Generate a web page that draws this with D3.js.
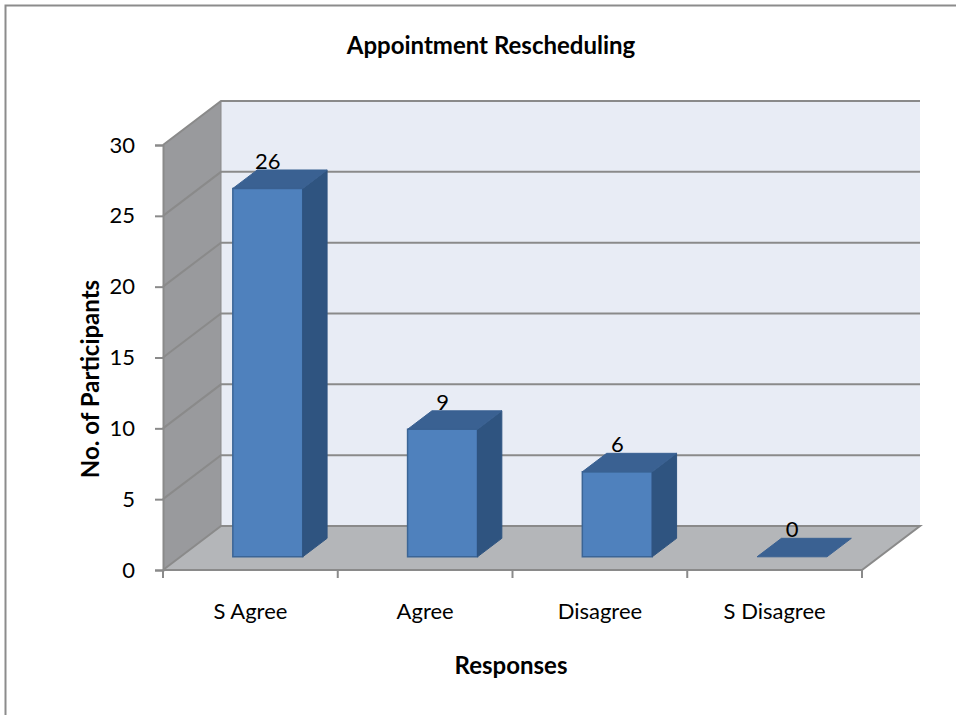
<!DOCTYPE html>
<html>
<head>
<meta charset="utf-8">
<script src="https://cdn.jsdelivr.net/npm/d3@7"></script>
<style>
  body { margin: 0; background: #fff; }
  text { font-family: Lato, "Open Sans", sans-serif; fill: #000; }
</style>
</head>
<body>
<div id="chart"></div>
<script>
// DATA
var categories = ["S Agree", "Agree", "Disagree", "S Disagree"];
var values = [26, 9, 6, 0];
var yTicks = [0, 5, 10, 15, 20, 25, 30];

var svgWidth = 956, svgHeight = 715;

var svg = d3.select("#chart").append("svg")
  .attr("width", svgWidth)
  .attr("height", svgHeight);

// outer frame
svg.append("rect")
  .attr("x", 5.5).attr("y", 5.5)
  .attr("width", svgWidth).attr("height", svgHeight)
  .attr("fill", "none").attr("stroke", "#8c8c8c").attr("stroke-width", 2);

// SCALES
var xScale = d3.scaleBand().domain(categories).range([163, 862]);
var yScale = d3.scaleLinear().domain([0, 30]).range([570, 145]);

// 3D depth offset
var depthX = 58, depthY = -44;
var barZ0 = 0.3, barZ1 = 0.72;

function pt(x, v, z) {
  return [x + z * depthX, yScale(v) + z * depthY];
}
function poly(points) {
  return points.map(function(p) { return p.join(","); }).join(" ");
}

var x0 = xScale.range()[0], x1 = xScale.range()[1];
var yMax = yScale.domain()[1];

// back wall
svg.append("polygon")
  .attr("points", poly([pt(x0, 0, 1), pt(x0, yMax, 1), pt(x1, yMax, 1), pt(x1, 0, 1)]))
  .attr("fill", "#e8ecf5");

// left side wall
svg.append("polygon")
  .attr("points", poly([pt(x0, 0, 0), pt(x0, yMax, 0), pt(x0, yMax, 1), pt(x0, 0, 1)]))
  .attr("fill", "#999a9d");

// floor
svg.append("polygon")
  .attr("points", poly([pt(x0, 0, 0), pt(x0, 0, 1), pt(x1, 0, 1), pt(x1, 0, 0)]))
  .attr("fill", "#b4b6b9");

// gridlines: back wall + side wall
yTicks.forEach(function(t) {
  if (t === 0) return;
  var a = pt(x0, t, 0), b = pt(x0, t, 1), c = pt(x1, t, 1);
  svg.append("polyline")
    .attr("points", poly([a, b, c]))
    .attr("fill", "none").attr("stroke", "#8a8a8a").attr("stroke-width", 2);
});

// floor outline
svg.append("polyline")
  .attr("points", poly([pt(x0, 0, 0), pt(x0, 0, 1), pt(x1, 0, 1), pt(x1, 0, 0), pt(x0, 0, 0)]))
  .attr("fill", "none").attr("stroke", "#8a8a8a").attr("stroke-width", 2);

// wall left edge
svg.append("line")
  .attr("x1", pt(x0, 0, 1)[0]).attr("y1", pt(x0, 0, 1)[1])
  .attr("x2", pt(x0, yMax, 1)[0]).attr("y2", pt(x0, yMax, 1)[1])
  .attr("stroke", "#8a8a8a").attr("stroke-width", 1);

// Y AXIS
var leftAxis = d3.axisLeft(yScale).tickValues(yTicks).tickSize(8).tickPadding(8);
var yAxis = svg.append("g")
  .attr("transform", "translate(" + x0 + ",0)")
  .call(leftAxis);
yAxis.select(".domain").attr("stroke", "#8a8a8a").attr("stroke-width", 2);
yAxis.selectAll(".tick line").attr("stroke", "#8a8a8a").attr("stroke-width", 2);
yAxis.selectAll(".tick text").style("font-size", "22px").attr("dx", "-12");

// X AXIS
var bottomAxis = d3.axisBottom(xScale).tickSize(0).tickPadding(33);
var xAxis = svg.append("g")
  .attr("transform", "translate(0," + yScale(0) + ")")
  .call(bottomAxis);
xAxis.select(".domain").remove();
xAxis.selectAll(".tick text").style("font-size", "22px");
// tick marks between categories
var bounds = categories.map(function(c) { return xScale(c); }).concat([x1]);
svg.selectAll(".xtick").data(bounds).enter().append("line")
  .attr("x1", function(d) { return d; }).attr("x2", function(d) { return d; })
  .attr("y1", yScale(0)).attr("y2", yScale(0) + 8)
  .attr("stroke", "#8a8a8a").attr("stroke-width", 2);

// BARS
var barW = xScale.bandwidth() * 0.4;
var bars = svg.selectAll(".bar").data(values).enter().append("g").attr("class", "bar");

bars.each(function(v, i) {
  var g = d3.select(this);
  var cx = xScale(categories[i]) + xScale.bandwidth() / 2;
  var l = cx - barW / 2, r = cx + barW / 2;
  if (v > 0) {
    // front
    g.append("polygon")
      .attr("points", poly([pt(l, 0, barZ0), pt(l, v, barZ0), pt(r, v, barZ0), pt(r, 0, barZ0)]))
      .attr("fill", "#4f81bd").attr("stroke", "#3b6596").attr("stroke-width", 1.5);
    // side
    g.append("polygon")
      .attr("points", poly([pt(r, 0, barZ0), pt(r, v, barZ0), pt(r, v, barZ1), pt(r, 0, barZ1)]))
      .attr("fill", "#2f5480").attr("stroke", "#2f5480").attr("stroke-width", 1);
  }
  // top
  g.append("polygon")
    .attr("points", poly([pt(l, v, barZ0), pt(l, v, barZ1), pt(r, v, barZ1), pt(r, v, barZ0)]))
    .attr("fill", "#3a6192").attr("stroke", "#3a6192").attr("stroke-width", 1);
  // value label, centred over the bar's front face
  var lx = pt(cx, v, barZ0)[0];
  var ly = pt(cx, v, barZ1)[1];
  g.append("text")
    .attr("x", lx).attr("y", ly - 1)
    .attr("text-anchor", "middle")
    .style("font-size", "22px")
    .text(v);
});

// TITLES
svg.append("text")
  .attr("x", 491).attr("y", 54)
  .attr("text-anchor", "middle")
  .style("font-size", "24px").style("font-weight", "bold")
  .text("Appointment Rescheduling");

svg.append("text")
  .attr("transform", "translate(99,379) rotate(-90)")
  .attr("text-anchor", "middle")
  .style("font-size", "24px").style("font-weight", "bold")
  .text("No. of Participants");

svg.append("text")
  .attr("x", 511).attr("y", 674)
  .attr("text-anchor", "middle")
  .style("font-size", "24px").style("font-weight", "bold")
  .text("Responses");
</script>
</body>
</html>
